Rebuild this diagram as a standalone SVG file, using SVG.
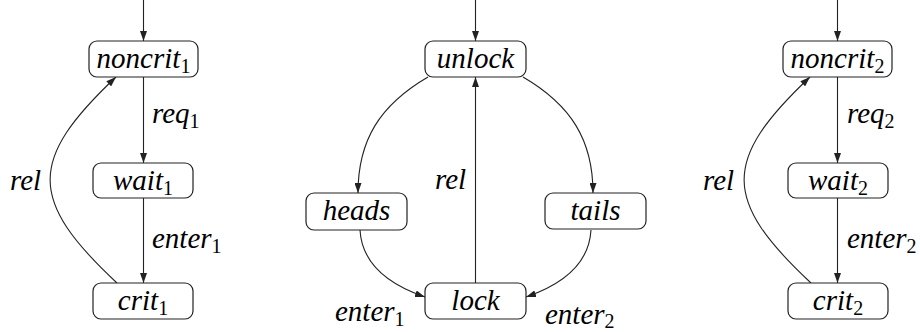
<svg xmlns="http://www.w3.org/2000/svg" width="920" height="332" viewBox="0 0 920 332">
<defs>
<marker id="ah" viewBox="0 0 10 7" refX="10" refY="3.5" markerWidth="10" markerHeight="7" markerUnits="userSpaceOnUse" orient="auto">
<path d="M0,0 L10,3.5 L0,7 z" fill="#222"/>
</marker>
</defs>
<rect width="920" height="332" fill="#fff"/>
<g id="connectors" fill="none" stroke="#222" stroke-width="1.1" marker-end="url(#ah)">
<path d="M143.5,0 L143.5,41"/>
<path d="M143.5,77 L143.5,163"/>
<path d="M143.5,198 L143.5,283"/>
<path d="M117,283 C28,200 28,160 116,77"/>
<path d="M475.5,0 L475.5,41"/>
<path d="M428,77 C380,105 358,140 358,193"/>
<path d="M523,77 C571,105 593,140 593,193"/>
<path d="M360,230 C362,265 390,285 425,297"/>
<path d="M591,230 C589,265 561,285 526,297"/>
<path d="M475.5,283 L475.5,77"/>
<path d="M837.5,0 L837.5,41"/>
<path d="M837.5,77 L837.5,163"/>
<path d="M837.5,198 L837.5,283"/>
<path d="M811,283 C722,200 722,160 810,77"/>
</g>
<g id="edge-labels">
<text x="152" y="123" font-family="Liberation Serif" font-size="29" font-style="italic">req<tspan font-style="normal" font-size="20" dy="5">1</tspan></text>
<text x="152" y="248" font-family="Liberation Serif" font-size="29" font-style="italic">enter<tspan font-style="normal" font-size="20" dy="5">1</tspan></text>
<text x="10" y="190" font-family="Liberation Serif" font-size="29" font-style="italic">rel</text>
<text x="435" y="189" font-family="Liberation Serif" font-size="29" font-style="italic">rel</text>
<text x="335" y="321" font-family="Liberation Serif" font-size="29" font-style="italic">enter<tspan font-style="normal" font-size="20" dy="5">1</tspan></text>
<text x="545" y="324" font-family="Liberation Serif" font-size="29" font-style="italic">enter<tspan font-style="normal" font-size="20" dy="4">2</tspan></text>
<text x="847" y="123" font-family="Liberation Serif" font-size="29" font-style="italic">req<tspan font-style="normal" font-size="20" dy="5">2</tspan></text>
<text x="847" y="248" font-family="Liberation Serif" font-size="29" font-style="italic">enter<tspan font-style="normal" font-size="20" dy="5">2</tspan></text>
<text x="703" y="190" font-family="Liberation Serif" font-size="29" font-style="italic">rel</text>
</g>
<g id="noncrit1"><rect x="89" y="41" width="109" height="36" rx="8" fill="#fff" stroke="#222" stroke-width="1.2"/><text x="143.5" y="68" text-anchor="middle" font-family="Liberation Serif" font-size="29" font-style="italic">noncrit<tspan font-style="normal" font-size="20" dy="5">1</tspan></text></g>
<g id="wait1"><rect x="93" y="163" width="100" height="35" rx="8" fill="#fff" stroke="#222" stroke-width="1.2"/><text x="143" y="190" text-anchor="middle" font-family="Liberation Serif" font-size="29" font-style="italic">wait<tspan font-style="normal" font-size="20" dy="5">1</tspan></text></g>
<g id="crit1"><rect x="93" y="283" width="100" height="36" rx="8" fill="#fff" stroke="#222" stroke-width="1.2"/><text x="143" y="310" text-anchor="middle" font-family="Liberation Serif" font-size="29" font-style="italic">crit<tspan font-style="normal" font-size="20" dy="5">1</tspan></text></g>
<g id="unlock"><rect x="425" y="41" width="101" height="36" rx="8" fill="#fff" stroke="#222" stroke-width="1.2"/><text x="475.5" y="68" text-anchor="middle" font-family="Liberation Serif" font-size="29" font-style="italic">unlock</text></g>
<g id="heads"><rect x="306" y="193" width="101" height="37" rx="8" fill="#fff" stroke="#222" stroke-width="1.2"/><text x="356.5" y="220" text-anchor="middle" font-family="Liberation Serif" font-size="29" font-style="italic">heads</text></g>
<g id="tails"><rect x="545" y="193" width="101" height="36" rx="8" fill="#fff" stroke="#222" stroke-width="1.2"/><text x="595.5" y="220" text-anchor="middle" font-family="Liberation Serif" font-size="29" font-style="italic">tails</text></g>
<g id="lock"><rect x="425" y="283" width="101" height="36" rx="8" fill="#fff" stroke="#222" stroke-width="1.2"/><text x="475.5" y="310" text-anchor="middle" font-family="Liberation Serif" font-size="29" font-style="italic">lock</text></g>
<g id="noncrit2"><rect x="783" y="41" width="109" height="36" rx="8" fill="#fff" stroke="#222" stroke-width="1.2"/><text x="837.5" y="68" text-anchor="middle" font-family="Liberation Serif" font-size="29" font-style="italic">noncrit<tspan font-style="normal" font-size="20" dy="5">2</tspan></text></g>
<g id="wait2"><rect x="788" y="163" width="100" height="35" rx="8" fill="#fff" stroke="#222" stroke-width="1.2"/><text x="838" y="190" text-anchor="middle" font-family="Liberation Serif" font-size="29" font-style="italic">wait<tspan font-style="normal" font-size="20" dy="5">2</tspan></text></g>
<g id="crit2"><rect x="788" y="283" width="100" height="36" rx="8" fill="#fff" stroke="#222" stroke-width="1.2"/><text x="838" y="310" text-anchor="middle" font-family="Liberation Serif" font-size="29" font-style="italic">crit<tspan font-style="normal" font-size="20" dy="5">2</tspan></text></g>
</svg>
